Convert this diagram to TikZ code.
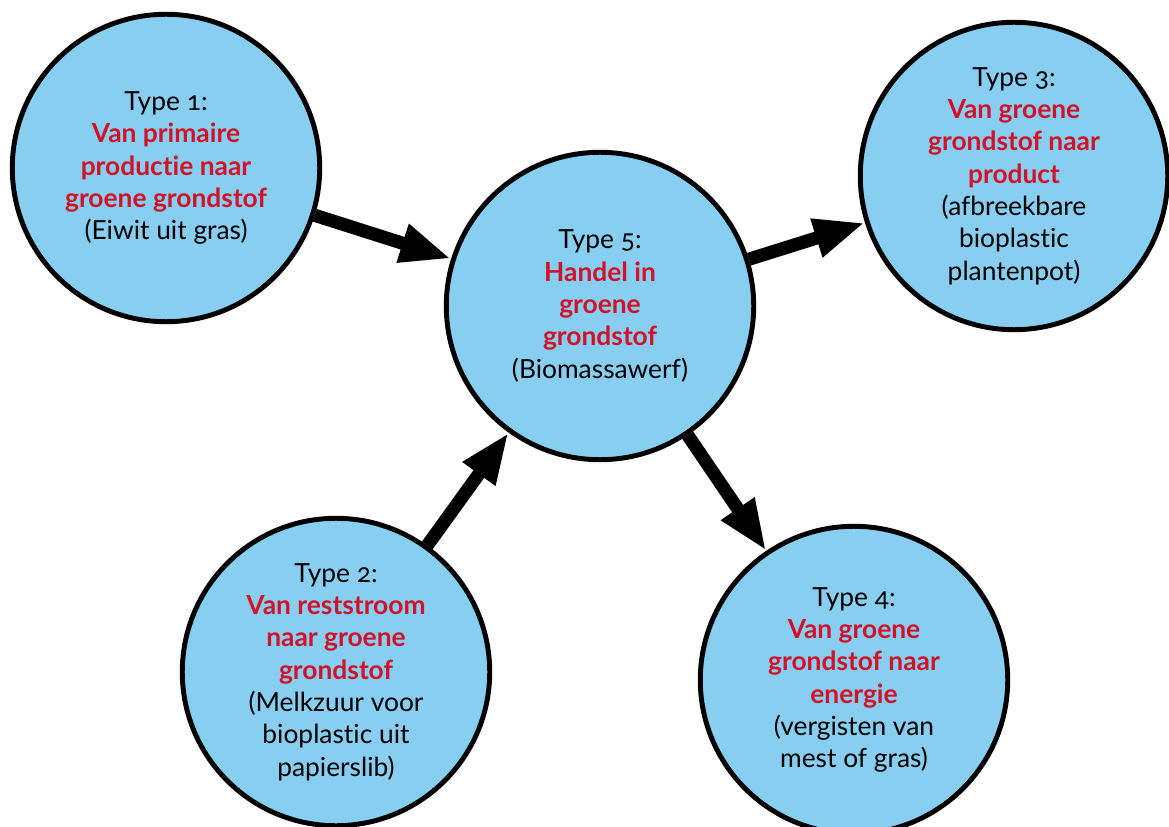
\documentclass[tikz,border=0pt]{standalone}
\usepackage{fontspec}
\setmainfont[Numbers=OldStyle,Ligatures=NoCommon]{Lato}
\usetikzlibrary{arrows.meta}
\definecolor{bleuciel}{RGB}{135,206,240}
\definecolor{rougetxt}{RGB}{210,18,40}
\tikzset{
  typecircle/.style={circle, draw=black, line width=2.8pt, fill=bleuciel,
    minimum size=6.15cm, inner sep=0pt, align=center,
    font=\fontsize{15}{18.4}\selectfont},
  flowarrow/.style={line width=7.5pt, -{Triangle[length=29pt,width=21pt]}}
}
\newcommand{\rood}[1]{{\color{rougetxt}\bfseries #1}}

\begin{document}
\begin{tikzpicture}[x=0.02cm,y=-0.02cm]
\useasboundingbox (0,0) rectangle (1169,827);

% les cinq cercles
\node[typecircle] (t1) at (166,168) {Type 1:\\ \rood{Van primaire}\\ \rood{productie naar}\\ \rood{groene grondstof}\\ (Eiwit uit gras)};
\node[typecircle] (t5) at (600,306) {Type 5:\\ \rood{Handel in}\\ \rood{groene}\\ \rood{grondstof}\\ (Biomassawerf)};
\node[typecircle] (t3) at (1014,176) {Type 3:\\ \rood{Van groene}\\ \rood{grondstof naar}\\ \rood{product}\\ (afbreekbare\\ bioplastic\\ plantenpot)};
\node[typecircle] (t2) at (336,672) {Type 2:\\ \rood{Van reststroom}\\ \rood{naar groene}\\ \rood{grondstof}\\ (Melkzuur voor\\ bioplastic uit\\ papierslib)};
\node[typecircle] (t4) at (854,680) {Type 4:\\ \rood{Van groene}\\ \rood{grondstof naar}\\ \rood{energie}\\ (vergisten van\\ mest of gras)};

% les flèches
\draw[flowarrow] (t1) -- (t5);
\draw[flowarrow] (t2) -- (t5);
\draw[flowarrow] (t5) -- (t3);
\draw[flowarrow] (t5) -- (t4);
\end{tikzpicture}
\end{document}
